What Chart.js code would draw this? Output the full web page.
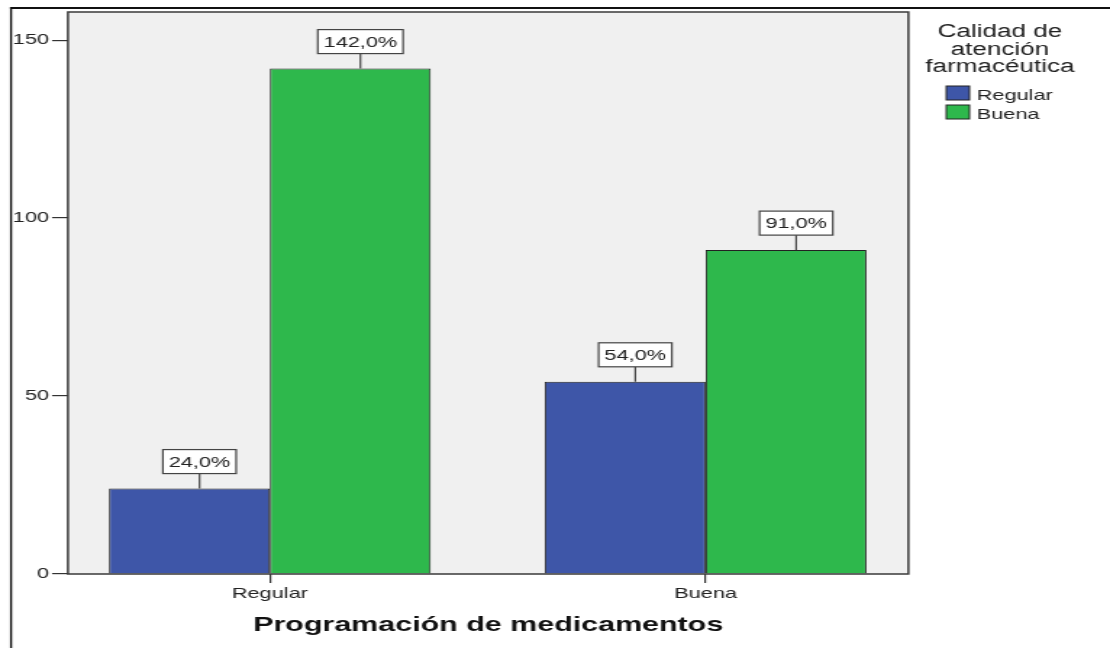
<!DOCTYPE html>
<html>
<head>
<meta charset="utf-8">
<script src="https://cdn.jsdelivr.net/npm/chart.js@4.4.1/dist/chart.umd.min.js"></script>
<style>
  html, body { margin: 0; padding: 0; background: #fff; overflow: hidden; }
  /* the reference is a horizontally stretched SPSS export, so the chart is drawn narrow and stretched */
  #wrap { width: 766px; height: 648px; transform: scaleX(1.4491); transform-origin: 0 0; }
</style>
</head>
<body>
<div id="wrap"><canvas id="chart" width="766" height="648"></canvas></div>
<script>
// Data
const categories = ["Regular", "Buena"];
const regularValues = [24, 54];
const buenaValues = [142, 91];
const seriesNames = ["Regular", "Buena"];
const yTicks = [0, 50, 100, 150];
const legendTitle = ["Calidad de", "atención", "farmacéutica"];
const xTitle = "Programación de medicamentos";

const FONT = "'Liberation Sans', Arial, sans-serif";
const BLUE = "#3e56a8";
const GREEN = "#2eb84c";

function fmt(v) {
  return v.toFixed(1).replace(".", ",") + "%";
}

// background, plot frame, value boxes, legend and page frame
const decor = {
  id: "decor",
  beforeDraw(chart) {
    const { ctx, chartArea: a } = chart;
    ctx.save();
    ctx.fillStyle = "#fff";
    ctx.fillRect(0, 0, chart.width, chart.height);
    ctx.fillStyle = "#f0f0f0";
    ctx.fillRect(a.left, a.top, a.right - a.left, a.bottom - a.top);
    // outer frame (left and top)
    ctx.fillStyle = "#111";
    ctx.fillRect(6.9, 7, 1.4, chart.height - 7);
    ctx.fillRect(6.9, 7, chart.width, 2);
    ctx.restore();
  },
  afterDatasetsDraw(chart) {
    const { ctx, chartArea: a } = chart;
    ctx.save();
    ctx.strokeStyle = "#3a3a3a";
    ctx.lineWidth = 1.5;
    ctx.strokeRect(a.left, a.top, a.right - a.left, a.bottom - a.top);

    // value label boxes with leader lines
    ctx.font = "15px " + FONT;
    ctx.textAlign = "center";
    ctx.textBaseline = "middle";
    chart.data.datasets.forEach((ds, di) => {
      chart.getDatasetMeta(di).data.forEach((bar, i) => {
        const txt = fmt(ds.data[i].y);
        const cx = bar.x + 7;
        const w = ctx.measureText(txt).width + 8;
        const h = 24;
        const bottom = bar.y - 15;
        ctx.strokeStyle = "#444";
        ctx.lineWidth = 1.2;
        ctx.beginPath();
        ctx.moveTo(cx, bar.y);
        ctx.lineTo(cx, bottom);
        ctx.stroke();
        ctx.fillStyle = "#fff";
        ctx.fillRect(cx - w / 2, bottom - h, w, h);
        ctx.strokeRect(cx - w / 2, bottom - h, w, h);
        ctx.fillStyle = "#222";
        ctx.fillText(txt, cx, bottom - h / 2 + 1);
      });
    });

    // legend
    ctx.fillStyle = "#222";
    ctx.textBaseline = "alphabetic";
    ctx.font = "18px " + FONT;
    legendTitle.forEach((line, i) => {
      ctx.fillText(line, 690, 37 + i * 17.5);
    });
    ctx.textAlign = "left";
    ctx.font = "15px " + FONT;
    chart.data.datasets.forEach((ds, i) => {
      const y = 86 + i * 19;
      ctx.fillStyle = ds.backgroundColor;
      ctx.fillRect(653, y, 16, 14);
      ctx.strokeStyle = "#222";
      ctx.lineWidth = 1;
      ctx.strokeRect(653, y, 16, 14);
      ctx.fillStyle = "#222";
      ctx.fillText(ds.label, 674, y + 14);
    });
    ctx.restore();
  }
};

new Chart(document.getElementById("chart"), {
  type: "bar",
  data: {
    datasets: [
      {
        label: seriesNames[0],
        data: categories.map((c, i) => ({ x: i, y: regularValues[i] })),
        backgroundColor: BLUE,
        borderColor: "#222",
        borderWidth: 1
      },
      {
        label: seriesNames[1],
        data: categories.map((c, i) => ({ x: i, y: buenaValues[i] })),
        backgroundColor: GREEN,
        borderColor: "#222",
        borderWidth: 1
      }
    ]
  },
  options: {
    responsive: false,
    animation: false,
    devicePixelRatio: 1,
    categoryPercentage: 0.7385,
    barPercentage: 1,
    layout: { padding: { left: 0, top: 12, right: 139.1, bottom: 0 } },
    plugins: { legend: { display: false }, tooltip: { enabled: false } },
    scales: {
      x: {
        type: "linear",
        min: -0.4633,
        max: 1.4656,
        offset: false,
        afterBuildTicks: s => { s.ticks = categories.map((c, i) => ({ value: i })); },
        afterFit: s => { s.height = 74; },
        ticks: {
          callback: v => categories[v],
          color: "#222",
          font: { family: FONT, size: 15 },
          padding: 1.5,
          maxRotation: 0
        },
        grid: { drawOnChartArea: false, offset: false, tickLength: 9, color: "#333", lineWidth: 1.2 },
        border: { display: false },
        title: {
          display: true,
          text: xTitle,
          color: "#111",
          font: { family: FONT, size: 21, weight: "bold" },
          padding: { top: 0, bottom: 10.4 }
        }
      },
      y: {
        min: 0,
        max: 157.9,
        afterBuildTicks: s => { s.ticks = yTicks.map(v => ({ value: v })); },
        afterFit: s => { s.width = 46.9; },
        ticks: {
          color: "#222",
          font: { family: FONT, size: 15 },
          padding: 2
        },
        grid: { drawOnChartArea: false, tickLength: 11, color: "#333", lineWidth: 1.2 },
        border: { display: false }
      }
    }
  },
  plugins: [decor]
});
</script>
</body>
</html>
